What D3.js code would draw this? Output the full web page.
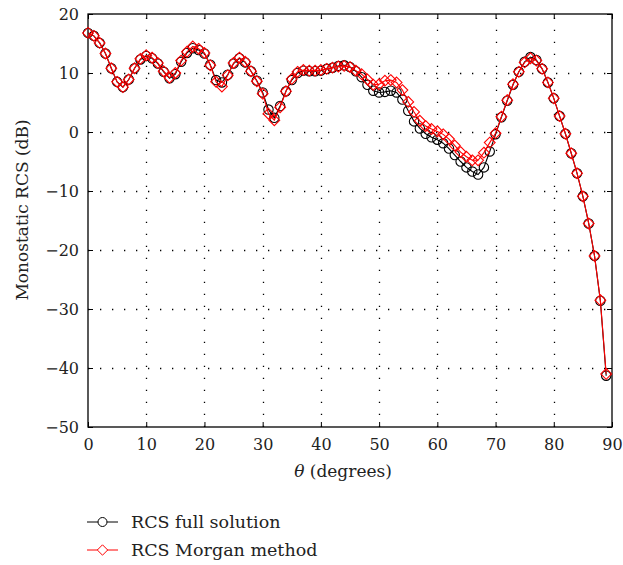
<!DOCTYPE html>
<html>
<head>
<meta charset="utf-8">
<script src="https://cdn.jsdelivr.net/npm/d3@7"></script>
<style>
  body { margin: 0; background: #fff; }
  text { font-family: "DejaVu Serif", serif; fill: #222; }
</style>
</head>
<body>
<div id="main"></div>
<script>
// angles, one sample per degree
var theta = d3.range(0, 90);

// RCS full solution (dB)
var rcsFull = [
  16.8, 16.3, 15.1, 13.3, 10.8, 8.5, 7.6, 8.9, 10.8, 12.3,
  12.9, 12.5, 11.6, 10.2, 9.1, 9.8, 11.9, 13.4, 14.2, 13.9,
  13.3, 11.4, 8.8, 8.4, 9.7, 11.6, 12.5, 11.8, 10.3, 8.7,
  6.7, 3.8, 2.4, 4.4, 6.9, 8.8, 10.0, 10.4, 10.3, 10.3,
  10.4, 10.7, 10.9, 11.2, 11.3, 11.0, 10.3, 9.3, 8.0, 7.0,
  6.7, 6.8, 7.0, 6.7, 5.5, 3.6, 1.8, 0.6, -0.3, -0.9,
  -1.3, -1.9, -2.8, -3.9, -5.0, -6.0, -6.7, -7.2, -6.0, -3.3,
  -0.4, 2.5, 5.3, 8.0, 10.2, 11.9, 12.7, 12.2, 10.7, 8.4,
  5.7, 2.7, -0.3, -3.6, -7.0, -10.9, -15.5, -21.0, -28.6, -41.3
];

// RCS Morgan method (dB)
var rcsMorgan = [
  16.8, 16.3, 15.1, 13.3, 10.8, 8.5, 7.6, 8.9, 10.8, 12.4,
  13.0, 12.6, 11.7, 10.3, 9.2, 10.0, 12.1, 13.6, 14.5, 14.1,
  13.4, 11.3, 8.5, 7.7, 9.6, 11.7, 12.6, 11.9, 10.3, 8.6,
  6.5, 3.1, 2.0, 4.2, 6.9, 9.0, 10.2, 10.5, 10.4, 10.4,
  10.5, 10.7, 10.9, 11.1, 11.2, 11.0, 10.4, 9.8, 8.9, 8.0,
  8.1, 8.7, 8.8, 8.4, 7.1, 5.1, 3.4, 1.9, 1.0, 0.5,
  0.1, -0.4, -1.2, -2.3, -3.4, -4.2, -4.8, -4.8, -3.5, -1.8,
  -0.2, 2.6, 5.4, 8.1, 10.2, 11.8, 12.5, 12.1, 10.7, 8.4,
  5.7, 2.7, -0.3, -3.6, -7.0, -10.9, -15.5, -21.0, -28.5, -41.0
];

var xTicks = d3.range(0, 91, 10),
    yTicks = d3.range(-50, 21, 10);

var seriesNames = ['RCS full solution', 'RCS Morgan method'];

var winWidth = 623,
    winHeight = 565;

var svg = d3.select('#main')
  .append('svg')
  .attr('width', winWidth)
  .attr('height', winHeight);

var x = d3.scaleLinear().domain([0, 90]).range([88, 612]),
    y = d3.scaleLinear().domain([-50, 20]).range([427, 14]);

// dotted grid
var grid = svg.append('g').attr('stroke', '#000').attr('stroke-width', 1.3)
  .attr('stroke-dasharray', '1.3,10.7');
grid.selectAll('line.gx').data(xTicks.slice(1, -1)).enter().append('line')
  .attr('x1', d => Math.round(x(d)) + 0.5).attr('x2', d => Math.round(x(d)) + 0.5)
  .attr('y1', y(-50)).attr('y2', y(20));
grid.selectAll('line.gy').data(yTicks.slice(1, -1)).enter().append('line')
  .attr('y1', d => Math.round(y(d)) + 0.5).attr('y2', d => Math.round(y(d)) + 0.5)
  .attr('x1', x(0)).attr('x2', x(90));

// axes with inside ticks
var fmt = d3.format('');
var axB = svg.append('g').attr('transform', 'translate(0,' + y(-50) + ')')
  .call(d3.axisBottom(x).tickValues(xTicks).tickSize(-5).tickPadding(12).tickFormat(fmt));
var axT = svg.append('g').attr('transform', 'translate(0,' + y(20) + ')')
  .call(d3.axisTop(x).tickValues(xTicks).tickSize(-5).tickFormat(''));
var axL = svg.append('g').attr('transform', 'translate(' + x(0) + ',0)')
  .call(d3.axisLeft(y).tickValues(yTicks).tickSize(-5).tickPadding(9).tickFormat(fmt));
var axR = svg.append('g').attr('transform', 'translate(' + x(90) + ',0)')
  .call(d3.axisRight(y).tickValues(yTicks).tickSize(-5).tickFormat(''));

[axB, axT, axL, axR].forEach(function(a) {
  a.select('.domain').remove();
  a.selectAll('text').attr('font-size', 16).attr('fill', '#222')
    .style('font-family', '"DejaVu Serif", serif');
});

// frame
svg.append('rect')
  .attr('x', x(0)).attr('y', y(20))
  .attr('width', x(90) - x(0)).attr('height', y(-50) - y(20))
  .attr('fill', 'none').attr('stroke', '#000').attr('stroke-width', 1.3);

// series
var line = d3.line().x((d, i) => x(theta[i])).y(d => y(d));
var diamond = function(cx, cy, r) {
  return 'M' + cx + ',' + (cy - r) + 'L' + (cx + r) + ',' + cy + 'L' + cx + ',' + (cy + r) + 'L' + (cx - r) + ',' + cy + 'Z';
};

var gFull = svg.append('g');
gFull.append('path').datum(rcsFull).attr('d', line)
  .attr('fill', 'none').attr('stroke', '#000').attr('stroke-width', 1.1);
gFull.selectAll('circle').data(rcsFull).enter().append('circle')
  .attr('cx', (d, i) => x(theta[i])).attr('cy', d => y(d)).attr('r', 4.7)
  .attr('fill', 'none').attr('stroke', '#000').attr('stroke-width', 1.1);

var gMorgan = svg.append('g');
gMorgan.append('path').datum(rcsMorgan).attr('d', line)
  .attr('fill', 'none').attr('stroke', '#f00').attr('stroke-width', 1.1);
gMorgan.selectAll('path.mk').data(rcsMorgan).enter().append('path')
  .attr('class', 'mk')
  .attr('d', (d, i) => diamond(x(theta[i]), y(d), 5.4))
  .attr('fill', 'none').attr('stroke', '#f00').attr('stroke-width', 1.1);

// axis labels
svg.append('text')
  .attr('x', 343).attr('y', 477).attr('text-anchor', 'middle').attr('font-size', 17)
  .html('<tspan font-style="italic">θ</tspan> (degrees)');

svg.append('text')
  .attr('transform', 'translate(28,210) rotate(-90)')
  .attr('text-anchor', 'middle').attr('font-size', 17)
  .text('Monostatic RCS (dB)');

// legend
var leg = svg.append('g');
leg.append('line').attr('x1', 87).attr('x2', 118).attr('y1', 522).attr('y2', 522)
  .attr('stroke', '#000');
leg.append('circle').attr('cx', 102.5).attr('cy', 522).attr('r', 4.5)
  .attr('fill', '#fff').attr('stroke', '#000');
leg.append('text').attr('x', 131).attr('y', 528).attr('font-size', 17.5).text(seriesNames[0]);

leg.append('line').attr('x1', 87).attr('x2', 118).attr('y1', 550).attr('y2', 550)
  .attr('stroke', '#f00');
leg.append('path').attr('d', diamond(102.5, 550, 5.2))
  .attr('fill', '#fff').attr('stroke', '#f00');
leg.append('text').attr('x', 131).attr('y', 556).attr('font-size', 17.5).text(seriesNames[1]);
</script>
</body>
</html>
